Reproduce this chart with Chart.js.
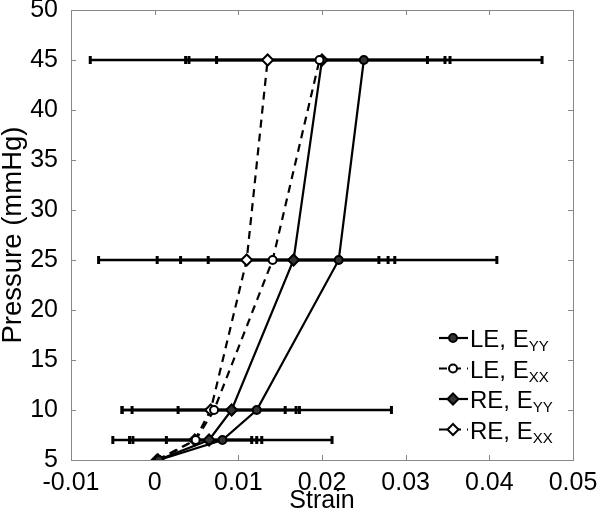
<!DOCTYPE html>
<html>
<head>
<meta charset="utf-8">
<script src="https://cdn.jsdelivr.net/npm/chart.js@4"></script>
<style>
  body { margin: 0; background: #fff; }
  #wrap { width: 600px; height: 516px; }
</style>
</head>
<body>
<div id="wrap"><canvas id="myChart" width="600" height="516"></canvas></div>
<script>
// pressure levels (mmHg)
const pressure = [5, 7, 10, 25, 45];

// mean strain and error (half width) for every series
const leYY = [0.0005, 0.0081, 0.0122, 0.0220, 0.0250];
const leYYErr = [0, 0.0131, 0.0161, 0.0189, 0.0213];
const leXX = [0.0004, 0.0049, 0.0071, 0.0141, 0.0197];
const leXXErr = [0, 0.0079, 0.0098, 0.0138, 0.0156];
const reYY = [0.0004, 0.0065, 0.0092, 0.0166, 0.0200];
const reYYErr = [0, 0.0051, 0.0064, 0.0102, 0.0126];
const reXX = [0.0003, 0.0048, 0.0067, 0.0110, 0.0135];
const reXXErr = [0, 0.0074, 0.0106, 0.0177, 0.0212];

const seriesNames = [['LE, E', 'YY'], ['LE, E', 'XX'], ['RE, E', 'YY'], ['RE, E', 'XX']];

const FONT = '"Liberation Sans", Arial, Helvetica, sans-serif';

function pts(xs) {
  return xs.map((x, i) => ({ x: x, y: pressure[i] }));
}

function makeSet(xs, errs, style, filled, dashed) {
  return {
    data: pts(xs),
    errs: errs,
    borderColor: '#000',
    borderWidth: 2.2,
    borderDash: dashed ? [8, 6] : [],
    showLine: true,
    pointStyle: style,
    pointRadius: style === 'circle' ? 4 : 5.5,
    pointBorderWidth: 2,
    pointBorderColor: '#000',
    pointBackgroundColor: filled ? '#333' : '#fff'
  };
}

const datasets = [
  makeSet(leYY, leYYErr, 'circle', true, false),
  makeSet(leXX, leXXErr, 'circle', false, true),
  makeSet(reYY, reYYErr, 'rectRot', true, false),
  makeSet(reXX, reXXErr, 'rectRot', false, true)
];

// horizontal error bars, drawn from the dataset values through the scales
const errorBars = {
  id: 'errorBars',
  beforeDatasetsDraw(chart) {
    const { ctx, scales: { x, y } } = chart;
    ctx.save();
    ctx.strokeStyle = '#000';
    chart.data.datasets.forEach(ds => {
      ds.data.forEach((p, i) => {
        const e = ds.errs[i];
        if (!e) return;
        const x0 = x.getPixelForValue(p.x - e);
        const x1 = x.getPixelForValue(p.x + e);
        const py = y.getPixelForValue(p.y);
        ctx.lineWidth = 2.4;
        ctx.beginPath();
        ctx.moveTo(x0, py);
        ctx.lineTo(x1, py);
        ctx.stroke();
        ctx.lineWidth = 3;
        ctx.beginPath();
        ctx.moveTo(x0, py - 4);
        ctx.lineTo(x0, py + 4);
        ctx.moveTo(x1, py - 4);
        ctx.lineTo(x1, py + 4);
        ctx.stroke();
      });
    });
    ctx.restore();
  }
};

// box around plot with inward ticks
const axisBox = {
  id: 'axisBox',
  beforeDatasetsDraw(chart) {
    const { ctx, chartArea: a, scales: { x, y } } = chart;
    ctx.save();
    ctx.strokeStyle = '#888';
    ctx.lineWidth = 1;
    ctx.strokeRect(a.left + 0.5, a.top + 0.5, a.right - a.left, a.bottom - a.top);
    ctx.beginPath();
    x.ticks.forEach(t => {
      const px = Math.round(x.getPixelForValue(t.value)) + 0.5;
      ctx.moveTo(px, a.bottom); ctx.lineTo(px, a.bottom - 5);
      ctx.moveTo(px, a.top); ctx.lineTo(px, a.top + 5);
    });
    y.ticks.forEach(t => {
      const py = Math.round(y.getPixelForValue(t.value)) + 0.5;
      ctx.moveTo(a.left, py); ctx.lineTo(a.left + 5, py);
      ctx.moveTo(a.right, py); ctx.lineTo(a.right - 5, py);
    });
    ctx.stroke();
    ctx.restore();
  }
};

// legend with subscripts
const subLegend = {
  id: 'subLegend',
  afterDraw(chart) {
    const ctx = chart.ctx;
    ctx.save();
    chart.data.datasets.forEach((ds, i) => {
      const cy = 338 + i * 30.5;
      ctx.strokeStyle = '#000';
      ctx.lineWidth = 2.2;
      ctx.setLineDash(ds.borderDash);
      ctx.beginPath();
      ctx.moveTo(439, cy);
      ctx.lineTo(468, cy);
      ctx.stroke();
      ctx.setLineDash([]);
      ctx.lineWidth = 2;
      ctx.fillStyle = ds.pointBackgroundColor;
      ctx.beginPath();
      if (ds.pointStyle === 'circle') {
        ctx.arc(453, cy, 4, 0, Math.PI * 2);
      } else {
        ctx.moveTo(453, cy - 5.5); ctx.lineTo(458.5, cy); ctx.lineTo(453, cy + 5.5); ctx.lineTo(447.5, cy); ctx.closePath();
      }
      ctx.fill();
      ctx.stroke();
      ctx.fillStyle = '#000';
      ctx.textBaseline = 'alphabetic';
      ctx.font = '24px ' + FONT;
      const main = seriesNames[i][0];
      ctx.fillText(main, 470, cy + 9);
      const w = ctx.measureText(main).width;
      ctx.font = '15px ' + FONT;
      ctx.fillText(seriesNames[i][1], 470 + w, cy + 13);
    });
    ctx.restore();
  }
};

new Chart(document.getElementById('myChart'), {
  type: 'scatter',
  data: { datasets: datasets },
  plugins: [axisBox, errorBars, subLegend],
  options: {
    responsive: false,
    animation: false,
    layout: { padding: { top: 10, right: 27, left: 0, bottom: 0 } },
    plugins: { legend: { display: false }, tooltip: { enabled: false } },
    scales: {
      x: {
        type: 'linear',
        min: -0.01, max: 0.05,
        afterFit: s => { s.height = 56; s.paddingLeft = 0; s.paddingRight = 0; },
        grid: { display: false },
        border: { display: false },
        ticks: {
          stepSize: 0.01,
          padding: 0,
          color: '#000',
          font: { family: FONT, size: 25 },
          maxRotation: 0,
          callback: v => Number(v.toFixed(2)).toString()
        },
        title: {
          display: true, text: 'Strain', color: '#000',
          font: { family: FONT, size: 25, lineHeight: 1 }, padding: { top: 0, bottom: 2 }
        }
      },
      y: {
        type: 'linear',
        min: 5, max: 50,
        afterFit: s => { s.width = 71; s.paddingTop = 0; s.paddingBottom = 0; },
        grid: { display: false },
        border: { display: false },
        ticks: {
          stepSize: 5,
          padding: 5,
          color: '#000',
          font: { family: FONT, size: 25 }
        },
        title: {
          display: true, text: 'Pressure (mmHg)', color: '#000',
          font: { family: FONT, size: 27.5, lineHeight: 1 }, padding: 0
        }
      }
    }
  }
});
</script>
</body>
</html>
